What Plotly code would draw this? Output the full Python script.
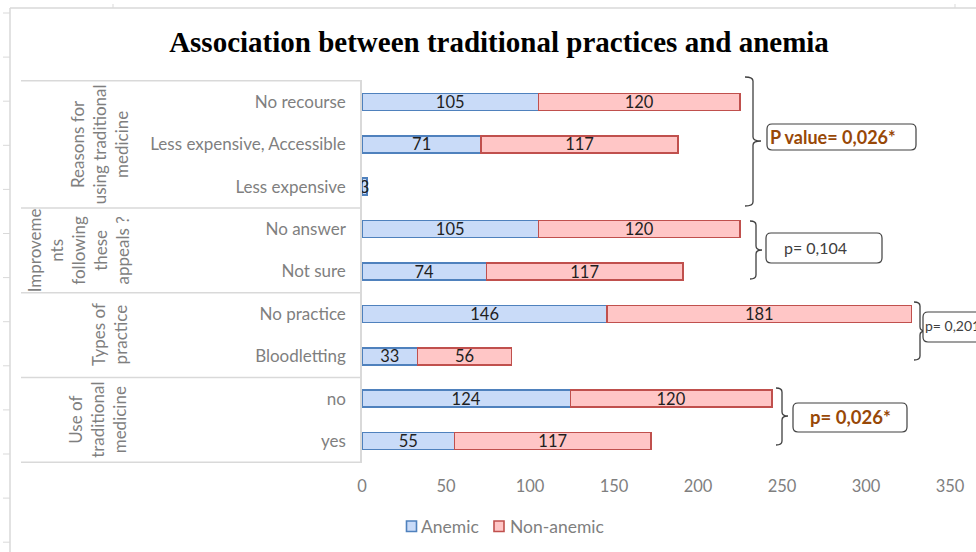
import plotly.graph_objects as go

# ---- data ----
categories = ["No recourse", "Less expensive, Accessible", "Less expensive",
              "No answer", "Not sure",
              "No practice", "Bloodletting",
              "no", "yes"]
series_names = ["Anemic", "Non-anemic"]
anemic = [105, 71, 3, 105, 74, 146, 33, 124, 55]
non_anemic = [120, 117, None, 120, 117, 181, 56, 120, 117]

group_labels = ["Reasons for<br>using traditional<br>medicine",
                "Improveme<br>nts<br>following<br>these<br>appeals ?",
                "Types of<br>practice",
                "Use of<br>traditional<br>medicine"]
group_sizes = [3, 2, 2, 2]

p_texts = ["P value= 0,026*", "p= 0,104", "p= 0,201", "p= 0,026*"]
x_ticks = [0, 50, 100, 150, 200, 250, 300, 350]

# ---- page geometry helpers (pixels -> paper) ----
W, H = 976, 552
def px(x):
    return x / W
def py(y):
    return 1 - y / H

GRAY_LINE = "#d9d9d9"
LABEL_GRAY = "#7f7f7f"
BROWN = "#984807"
FONT = "Lato"
FILLS = ["#c9dbf8", "#ffc6c6"]
EDGES = ["#4f81bd", "#c0504d"]

bar_text = dict(textposition="inside", insidetextanchor="middle",
                textangle=0, constraintext="none",
                texttemplate="%{x}",
                textfont=dict(family=FONT, size=16.5, color="#1f1f1f"))

fig = go.Figure()
for name, vals, fill, edge in zip(series_names, [anemic, non_anemic], FILLS, EDGES):
    fig.add_trace(go.Bar(
        y=categories, x=vals, name=name, orientation="h", width=0.4,
        marker=dict(color=fill, line=dict(color=edge, width=1.6)),
        showlegend=False, **bar_text,
    ))

shapes = []
# outer frame
shapes.append(dict(type="line", xref="paper", yref="paper", x0=px(10), x1=1, y0=py(8), y1=py(8),
                   line=dict(color=GRAY_LINE, width=1.5)))
shapes.append(dict(type="line", xref="paper", yref="paper", x0=px(10), x1=px(10), y0=py(8), y1=0,
                   line=dict(color=GRAY_LINE, width=1.5)))
for k in range(13):
    yy = 13 + 44.1 * k
    shapes.append(dict(type="line", xref="paper", yref="paper", x0=px(3), x1=px(10),
                       y0=py(yy), y1=py(yy), line=dict(color=GRAY_LINE, width=1)))
for xx in (113, 955):
    shapes.append(dict(type="line", xref="paper", yref="paper", x0=px(xx), x1=px(xx),
                       y0=py(4), y1=py(8), line=dict(color=GRAY_LINE, width=1)))

# group separators on the category axis
bounds = [-0.5]
for s in group_sizes:
    bounds.append(bounds[-1] + s)
for b in bounds:
    shapes.append(dict(type="line", xref="paper", yref="y", x0=px(21), x1=px(362),
                       y0=b, y1=b, line=dict(color=GRAY_LINE, width=1.5)))

# group labels (rotated)
annotations = []
group_cx = [99, 78, 109, 98]
start = 0
for lab, s, cx in zip(group_labels, group_sizes, group_cx):
    mid = start + (s - 1) / 2
    annotations.append(dict(text=lab, textangle=-90, xref="paper", yref="y",
                            x=px(cx), y=mid, xanchor="center", yanchor="middle",
                            showarrow=False, align="center",
                            font=dict(family=FONT, size=17, color=LABEL_GRAY)))
    start += s

# brackets and p-value boxes
def brace(x0, x1, x2, yt, ym, yb):
    r = 4
    pts = (f"M {px(x0)},{py(yt)} Q {px(x1)},{py(yt)} {px(x1)},{py(yt + r)} "
           f"L {px(x1)},{py(ym - r)} Q {px(x1)},{py(ym)} {px(x2)},{py(ym)} "
           f"Q {px(x1)},{py(ym)} {px(x1)},{py(ym + r)} "
           f"L {px(x1)},{py(yb - r)} Q {px(x1)},{py(yb)} {px(x0)},{py(yb)}")
    return dict(type="path", xref="paper", yref="paper", path=pts,
                line=dict(color="#404040", width=1.3))

def rbox(x0, y0, x1, y1, r=5):
    p = (f"M {px(x0 + r)},{py(y0)} L {px(x1 - r)},{py(y0)} Q {px(x1)},{py(y0)} {px(x1)},{py(y0 + r)} "
         f"L {px(x1)},{py(y1 - r)} Q {px(x1)},{py(y1)} {px(x1 - r)},{py(y1)} "
         f"L {px(x0 + r)},{py(y1)} Q {px(x0)},{py(y1)} {px(x0)},{py(y1 - r)} "
         f"L {px(x0)},{py(y0 + r)} Q {px(x0)},{py(y0)} {px(x0 + r)},{py(y0)} Z")
    return dict(type="path", xref="paper", yref="paper", path=p,
                line=dict(color="#404040", width=1.2), fillcolor="white")

shapes += [brace(745, 753, 761, 77, 141, 206),
           brace(750, 756, 762, 221, 250, 279),
           brace(914, 920, 926, 302, 331, 360),
           brace(776, 782, 788, 388, 416, 445)]
shapes += [rbox(767, 124, 916, 150),
           rbox(766, 233, 882, 263),
           rbox(923, 312, 995, 342),
           rbox(793, 403, 907, 432)]

notes = [
    dict(text="<b>" + p_texts[0] + "</b>", x=px(768), y=py(137), xanchor="left",
         font=dict(family=FONT, size=18, color=BROWN)),
    dict(text=p_texts[1], x=px(782), y=py(247), xanchor="left",
         font=dict(family=FONT, size=16, color="#404040")),
    dict(text=p_texts[2], x=px(923), y=py(325), xanchor="left",
         font=dict(family=FONT, size=14, color="#404040")),
    dict(text="<b>" + p_texts[3] + "</b>", x=px(850), y=py(417), xanchor="center",
         font=dict(family=FONT, size=18.5, color=BROWN)),
]

# legend: swatch + series name
legend_x = [(406.5, 419), (494, 508)]
for name, fill, edge, (sx, tx) in zip(series_names, FILLS, EDGES, legend_x):
    shapes.append(dict(type="rect", xref="paper", yref="paper",
                       x0=px(sx), x1=px(sx + 10), y0=py(521), y1=py(531.5),
                       fillcolor=fill, line=dict(color=edge, width=1.6)))
    notes.append(dict(text=name, x=px(tx), y=py(526.5), xanchor="left",
                      font=dict(family=FONT, size=17.5, color=LABEL_GRAY)))

for a in notes:
    a.update(xref="paper", yref="paper", yanchor="middle", showarrow=False)
annotations += notes

fig.update_layout(
    width=W, height=H, autosize=False,
    margin=dict(l=0, r=0, t=0, b=0, autoexpand=False),
    paper_bgcolor="white", plot_bgcolor="white",
    barmode="stack", showlegend=False,
    title=dict(text="<b>Association between traditional practices and anemia</b>",
               x=px(499), y=py(42), xanchor="center", yanchor="middle",
               font=dict(family="Liberation Serif", size=29, color="black")),
    xaxis=dict(domain=[px(362), px(950)], range=[0, 350], tickvals=x_ticks,
               showgrid=False, zeroline=False, showline=False, ticks="",
               ticklabelstandoff=11, automargin=False,
               tickfont=dict(family=FONT, size=16.5, color=LABEL_GRAY)),
    yaxis=dict(domain=[py(463), py(80)], type="category", categoryarray=categories,
               autorange="reversed", showgrid=False, zeroline=False,
               showline=True, linecolor=GRAY_LINE, linewidth=1.5, ticks="",
               ticklabelstandoff=11, automargin=False,
               tickfont=dict(family=FONT, size=17, color=LABEL_GRAY)),
    shapes=shapes, annotations=annotations,
)

fig.write_html("out.html")
